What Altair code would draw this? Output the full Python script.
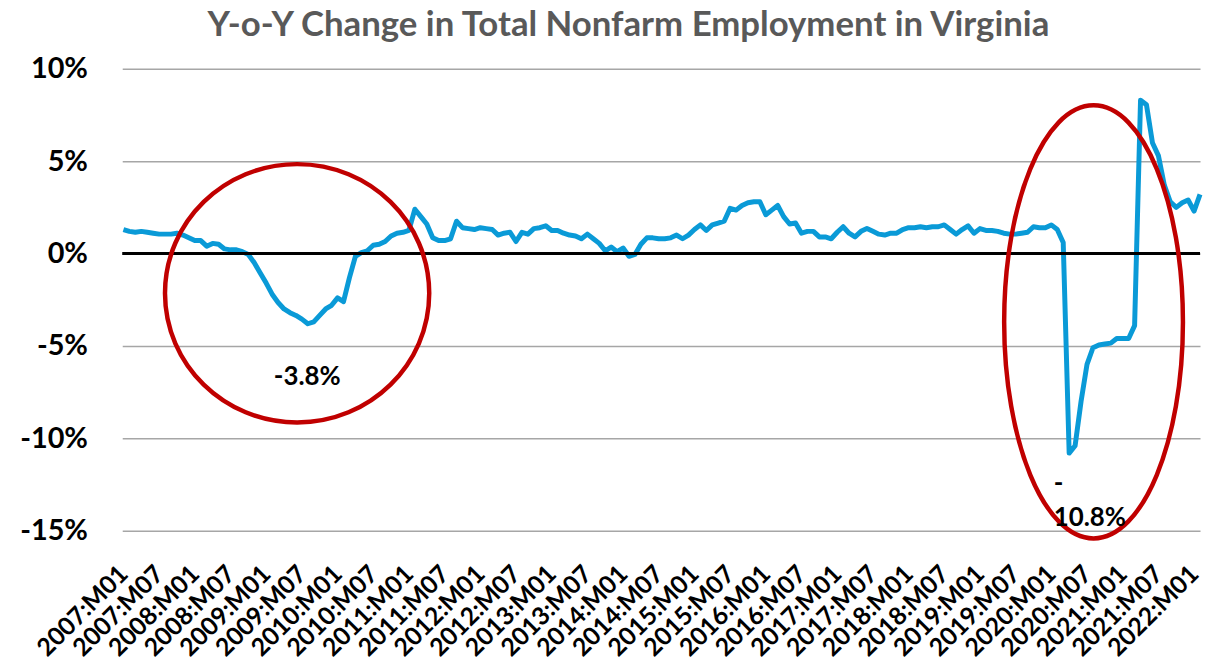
import altair as alt
import pandas as pd

# ---- data ----
months = [f"{d.year}:M{d.month:02d}" for d in pd.date_range("2007-01-01", "2022-02-01", freq="MS")]
yoy_change = [
    1.3, 1.2, 1.15, 1.2, 1.15, 1.1, 1.05, 1.05, 1.05, 1.1, 1.0, 0.85,          # 2007
    0.7, 0.7, 0.4, 0.55, 0.5, 0.25, 0.2, 0.2, 0.1, -0.05, -0.5, -1.05,        # 2008
    -1.6, -2.2, -2.65, -3.0, -3.2, -3.35, -3.55, -3.8, -3.7, -3.35, -3.0, -2.8, # 2009
    -2.4, -2.6, -1.3, -0.15, 0.05, 0.15, 0.45, 0.5, 0.65, 0.95, 1.1, 1.15,    # 2010
    1.25, 2.4, 2.0, 1.6, 0.85, 0.7, 0.7, 0.8, 1.75, 1.4, 1.35, 1.3,           # 2011
    1.4, 1.35, 1.3, 1.0, 1.1, 1.15, 0.65, 1.15, 1.05, 1.35, 1.4, 1.5,         # 2012
    1.25, 1.25, 1.1, 1.0, 0.95, 0.8, 1.05, 0.8, 0.55, 0.15, 0.35, 0.1,        # 2013
    0.3, -0.15, -0.05, 0.5, 0.85, 0.85, 0.8, 0.8, 0.85, 1.0, 0.8, 1.0,        # 2014
    1.3, 1.55, 1.25, 1.55, 1.65, 1.75, 2.45, 2.35, 2.6, 2.75, 2.8, 2.8,       # 2015
    2.1, 2.35, 2.6, 2.0, 1.6, 1.65, 1.1, 1.2, 1.2, 0.9, 0.9, 0.8,             # 2016
    1.15, 1.45, 1.1, 0.9, 1.2, 1.35, 1.2, 1.05, 1.0, 1.1, 1.1, 1.3,           # 2017
    1.4, 1.4, 1.45, 1.4, 1.45, 1.45, 1.55, 1.3, 1.05, 1.3, 1.5, 1.1,          # 2018
    1.35, 1.25, 1.25, 1.2, 1.1, 1.05, 1.05, 1.1, 1.15, 1.45, 1.4, 1.4,        # 2019
    1.55, 1.3, 0.6, -10.8, -10.4, -8.0, -6.0, -5.1, -4.95, -4.9, -4.85, -4.6, # 2020
    -4.6, -4.6, -3.9, 8.3, 8.05, 6.0, 5.3, 3.7, 2.8, 2.5, 2.75, 2.9,          # 2021
    2.3, 3.2,                                                                 # 2022
]
y_ticks = [-15, -10, -5, 0, 5, 10]
label_every = 6

# annotation positions in data units (month index, percent)
ellipse_x = [29.2, 163.1]
ellipse_y = [-2.15, -3.7]
ellipse_ratio = [133 / 130, 90 / 218]
ellipse_size = [260 ** 2, 436 ** 2]
note_text = ["-3.8%", "-\n10.8%"]
note_x = [30.9, 156.4]
note_y = [-6.7, -12.5]
note_align = ["center", "left"]

df = pd.DataFrame({"idx": list(range(len(months))), "month": months, "value": yoy_change})

XSCALE = alt.Scale(domain=[-0.2, len(months) - 1], nice=False, zero=False)
YSCALE = alt.Scale(domain=[-15, 10], nice=False)

XAXIS = alt.Axis(values=list(range(0, len(months), label_every)),
                 labelExpr="floor(datum.value/12)+2007 + ':M' + (datum.value % 12 == 0 ? '01' : '07')",
                 labelAngle=-45, labelAlign="right", labelBaseline="middle",
                 labelPadding=39, ticks=False, tickSize=0, domain=False, grid=False,
                 labelFont="Lato", labelFontSize=25, labelFontWeight="bold",
                 labelColor="black", labelOverlap=False, labelBound=False, labelFlush=False,
                 title=None)
YAXIS = alt.Axis(values=y_ticks, labelExpr="datum.value + '%'",
                 ticks=False, tickSize=0, domain=False, grid=True,
                 gridColor="#A6A6A6", gridWidth=1.5, labelPadding=35,
                 labelFont="Lato", labelFontSize=29, labelFontWeight="bold",
                 labelColor="black", title=None)


def X(field="idx:Q"):
    return alt.X(field, scale=XSCALE, axis=XAXIS)


def Y(field="value:Q"):
    return alt.Y(field, scale=YSCALE, axis=YAXIS)


line = alt.Chart(df).mark_line(color="#0A9AD7", strokeWidth=5, strokeJoin="round").encode(x=X(), y=Y())

zero = alt.Chart(pd.DataFrame({"value": [0]})).mark_rule(color="black", strokeWidth=3).encode(y=Y())


def ellipse_path(a):
    k = 0.5523
    return (f"M 0 -1 C {k*a:.4f} -1 {a:.4f} {-k} {a:.4f} 0 "
            f"C {a:.4f} {k} {k*a:.4f} 1 0 1 "
            f"C {-k*a:.4f} 1 {-a:.4f} {k} {-a:.4f} 0 "
            f"C {-a:.4f} {-k} {-k*a:.4f} -1 0 -1 Z")


ellipses = []
for ex, ey, r, s in zip(ellipse_x, ellipse_y, ellipse_ratio, ellipse_size):
    e = alt.Chart(pd.DataFrame({"idx": [ex], "value": [ey]})).mark_point(
        shape=ellipse_path(r), size=s, filled=False, stroke="#C00000", strokeWidth=4.5, opacity=1
    ).encode(x=X(), y=Y())
    ellipses.append(e)

notes = []
for t, nx, ny, al in zip(note_text, note_x, note_y, note_align):
    n = alt.Chart(pd.DataFrame({"idx": [nx], "value": [ny], "t": [t]})).mark_text(
        font="Lato", fontSize=26, fontWeight="bold", color="black", align=al, baseline="middle",
        lineBreak="\n", lineHeight=34
    ).encode(x=X(), y=Y(), text="t:N")
    notes.append(n)

chart = alt.layer(line, zero, *ellipses, *notes).properties(
    width=1085, height=465,
    background="white",
    title=alt.TitleParams("Y-o-Y Change in Total Nonfarm Employment in Virginia",
                          font="Lato", fontSize=35, fontWeight="bold", color="#595959",
                          anchor="middle", dx=-33, offset=12),
    autosize=alt.AutoSizeParams(type="none"),
    padding={"left": 115, "top": 59, "right": 3, "bottom": 128},
).configure_view(stroke=None).configure_axis(labelOverlap=False)

chart.save("out.html", embed_options={"renderer": "svg", "actions": False})
